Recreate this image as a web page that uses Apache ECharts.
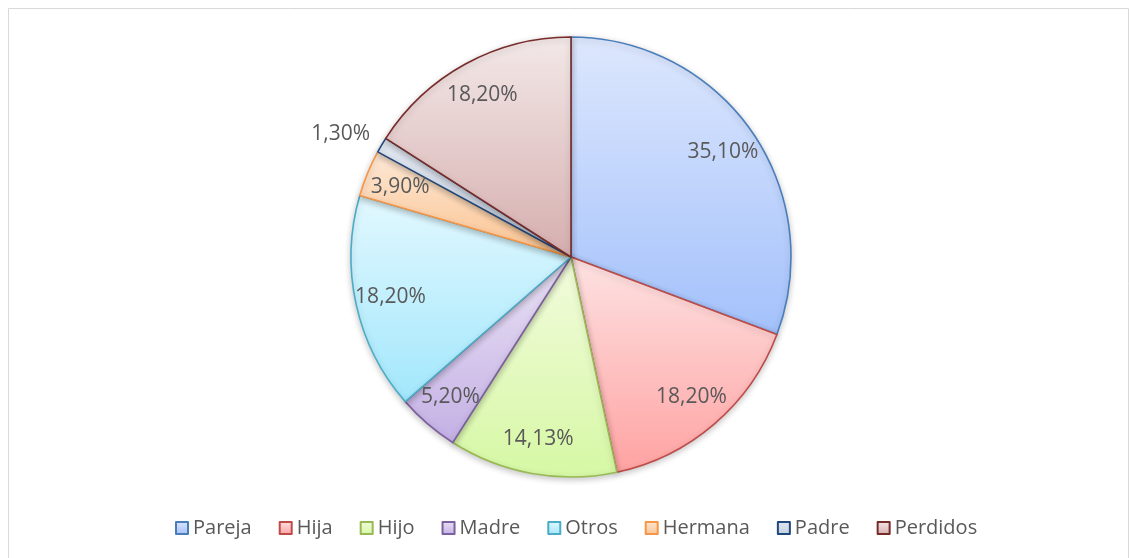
<!DOCTYPE html>
<html>
<head>
<meta charset="utf-8">
<script src="https://cdn.jsdelivr.net/npm/echarts@6/dist/echarts.min.js"></script>
<style>
  html, body { margin: 0; padding: 0; background: #fff; }
  #chart { width: 1129px; height: 558px; }
</style>
</head>
<body>
<div id="chart"></div>
<script>
// datos del gráfico
var categorias = ['Pareja', 'Hija', 'Hijo', 'Madre', 'Otros', 'Hermana', 'Padre', 'Perdidos'];
var valores = [35.10, 18.20, 14.13, 5.20, 18.20, 3.90, 1.30, 18.20];

// colores: [arriba, abajo, borde]
var colArriba = ['#dde7fd', '#fde2e2', '#f2fbdd', '#e9e2f4', '#e2f8fe', '#fde8d6', '#e3e8f1', '#f3e8e8'];
var colAbajo  = ['#a3c1fb', '#ffa2a2', '#d6f8a4', '#c4b0e5', '#a2e7fc', '#fbc390', '#c3cee0', '#d6aeae'];
var colBorde  = ['#4a7ebb', '#be4b48', '#98b954', '#7d60a0', '#4bacc6', '#f79646', '#1f497d', '#772c2a'];

var cx = 571, cy = 257, radio = 220;

var datos = [];
for (var i = 0; i < categorias.length; i++) {
    datos.push({
        name: categorias[i],
        value: valores[i],
        itemStyle: {
            color: new echarts.graphic.LinearGradient(0, 0, 0, 1, [
                { offset: 0, color: colArriba[i] },
                { offset: 1, color: colAbajo[i] }
            ]),
            borderColor: colBorde[i]
        }
    });
}

var chart = echarts.init(document.getElementById('chart'));
var option = {
    backgroundColor: '#ffffff',
    animation: false,
    graphic: [{
        type: 'rect',
        shape: { x: 8.5, y: 8.5, width: 1120, height: 560 },
        style: { fill: 'none', stroke: '#d9d9d9', lineWidth: 1 },
        silent: true
    }],
    legend: {
        left: 170,
        top: 513,
        icon: 'rect',
        itemWidth: 12,
        itemHeight: 12,
        itemGap: 27,
        textStyle: { color: '#595959', fontSize: 20, fontFamily: 'Open Sans', padding: [0, 0, 0, 0] },
        data: categorias
    },
    series: [{
        type: 'pie',
        center: [cx, cy],
        radius: radio,
        startAngle: 90,
        clockwise: true,
        avoidLabelOverlap: false,
        itemStyle: {
            borderWidth: 1.6,
            shadowBlur: 6,
            shadowOffsetY: 2,
            shadowColor: 'rgba(0,0,0,0.22)'
        },
        label: {
            show: true,
            position: 'inside',
            color: '#595959',
            fontSize: 21,
            fontFamily: 'Open Sans',
            formatter: function (p) {
                return p.value.toFixed(2).replace('.', ',') + '%';
            }
        },
        labelLine: { show: false },
        labelLayout: function (p) {
            // mover la etiqueta hacia fuera, como en Excel
            var r = p.labelRect;
            var lx = r.x + r.width / 2, ly = r.y + r.height / 2;
            var d = Math.sqrt((lx - cx) * (lx - cx) + (ly - cy) * (ly - cy));
            var objetivo = valores[p.dataIndex] < 2 ? radio * 1.19 : radio * 0.84;
            var k = objetivo / d - 1;
            var extra = valores[p.dataIndex] < 2 ? 10 : 0;
            return { dx: (lx - cx) * k - extra / 2, dy: (ly - cy) * k + extra };
        },
        data: datos
    }]
};
chart.setOption(option);
</script>
</body>
</html>
